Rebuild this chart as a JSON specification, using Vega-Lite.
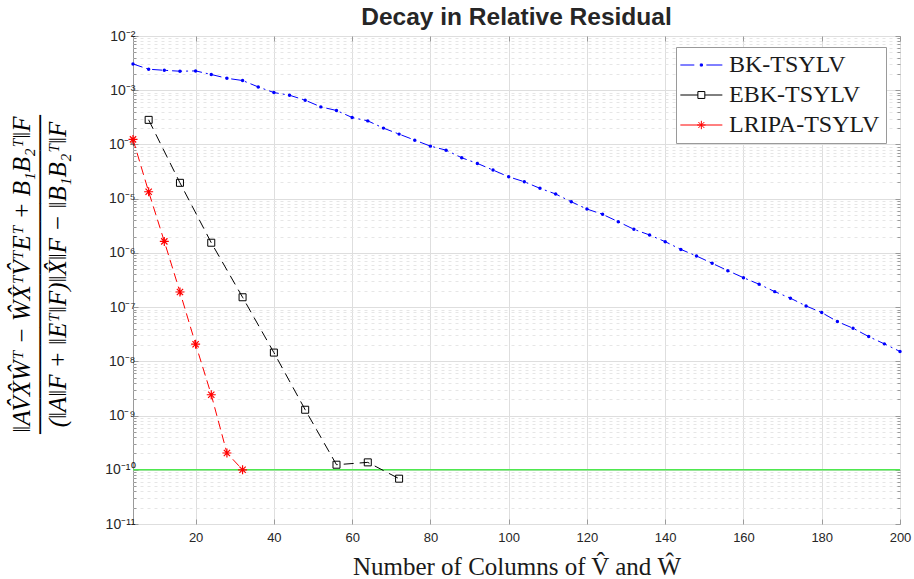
{
  "$schema": "https://vega.github.io/schema/vega-lite/v6.json",
  "width": 767,
  "height": 488,
  "autosize": "none",
  "padding": {"left": 133, "top": 36, "right": 14, "bottom": 55},
  "background": "white",
  "title": {"text": "Decay in Relative Residual", "font": "Liberation Sans", "fontSize": 24.5, "fontWeight": "bold", "color": "#262626", "offset": -1, "anchor": "middle"},
  "config": {"view": {"stroke": "#9a9a9a", "strokeWidth": 1}},
  "data": {"values": [
    {"series": "BK-TSYLV", "x": 4, "y": 3.05e-3},
    {"series": "BK-TSYLV", "x": 8, "y": 2.44e-3},
    {"series": "BK-TSYLV", "x": 12, "y": 2.33e-3},
    {"series": "BK-TSYLV", "x": 16, "y": 2.24e-3},
    {"series": "BK-TSYLV", "x": 20, "y": 2.27e-3},
    {"series": "BK-TSYLV", "x": 24, "y": 1.95e-3},
    {"series": "BK-TSYLV", "x": 28, "y": 1.66e-3},
    {"series": "BK-TSYLV", "x": 32, "y": 1.51e-3},
    {"series": "BK-TSYLV", "x": 36, "y": 1.15e-3},
    {"series": "BK-TSYLV", "x": 40, "y": 9.06e-4},
    {"series": "BK-TSYLV", "x": 44, "y": 8.09e-4},
    {"series": "BK-TSYLV", "x": 48, "y": 6.55e-4},
    {"series": "BK-TSYLV", "x": 52, "y": 4.93e-4},
    {"series": "BK-TSYLV", "x": 56, "y": 4.23e-4},
    {"series": "BK-TSYLV", "x": 60, "y": 3.14e-4},
    {"series": "BK-TSYLV", "x": 64, "y": 2.72e-4},
    {"series": "BK-TSYLV", "x": 68, "y": 2.0e-4},
    {"series": "BK-TSYLV", "x": 72, "y": 1.55e-4},
    {"series": "BK-TSYLV", "x": 76, "y": 1.20e-4},
    {"series": "BK-TSYLV", "x": 80, "y": 9.31e-5},
    {"series": "BK-TSYLV", "x": 84, "y": 7.85e-5},
    {"series": "BK-TSYLV", "x": 88, "y": 5.68e-5},
    {"series": "BK-TSYLV", "x": 92, "y": 4.47e-5},
    {"series": "BK-TSYLV", "x": 96, "y": 3.37e-5},
    {"series": "BK-TSYLV", "x": 100, "y": 2.53e-5},
    {"series": "BK-TSYLV", "x": 104, "y": 2.05e-5},
    {"series": "BK-TSYLV", "x": 108, "y": 1.55e-5},
    {"series": "BK-TSYLV", "x": 112, "y": 1.22e-5},
    {"series": "BK-TSYLV", "x": 116, "y": 8.77e-6},
    {"series": "BK-TSYLV", "x": 120, "y": 6.44e-6},
    {"series": "BK-TSYLV", "x": 124, "y": 5.14e-6},
    {"series": "BK-TSYLV", "x": 128, "y": 3.76e-6},
    {"series": "BK-TSYLV", "x": 132, "y": 2.72e-6},
    {"series": "BK-TSYLV", "x": 136, "y": 2.14e-6},
    {"series": "BK-TSYLV", "x": 140, "y": 1.61e-6},
    {"series": "BK-TSYLV", "x": 144, "y": 1.16e-6},
    {"series": "BK-TSYLV", "x": 148, "y": 8.77e-7},
    {"series": "BK-TSYLV", "x": 152, "y": 6.43e-7},
    {"series": "BK-TSYLV", "x": 156, "y": 4.70e-7},
    {"series": "BK-TSYLV", "x": 160, "y": 3.49e-7},
    {"series": "BK-TSYLV", "x": 164, "y": 2.64e-7},
    {"series": "BK-TSYLV", "x": 168, "y": 1.93e-7},
    {"series": "BK-TSYLV", "x": 172, "y": 1.46e-7},
    {"series": "BK-TSYLV", "x": 176, "y": 1.05e-7},
    {"series": "BK-TSYLV", "x": 180, "y": 7.93e-8},
    {"series": "BK-TSYLV", "x": 184, "y": 5.41e-8},
    {"series": "BK-TSYLV", "x": 188, "y": 4.08e-8},
    {"series": "BK-TSYLV", "x": 192, "y": 2.86e-8},
    {"series": "BK-TSYLV", "x": 196, "y": 2.10e-8},
    {"series": "BK-TSYLV", "x": 200, "y": 1.52e-8},
    {"series": "EBK-TSYLV", "x": 8, "y": 2.84e-4},
    {"series": "EBK-TSYLV", "x": 16, "y": 1.96e-5},
    {"series": "EBK-TSYLV", "x": 24, "y": 1.54e-6},
    {"series": "EBK-TSYLV", "x": 32, "y": 1.52e-7},
    {"series": "EBK-TSYLV", "x": 40, "y": 1.45e-8},
    {"series": "EBK-TSYLV", "x": 48, "y": 1.28e-9},
    {"series": "EBK-TSYLV", "x": 56, "y": 1.24e-10},
    {"series": "EBK-TSYLV", "x": 64, "y": 1.37e-10},
    {"series": "EBK-TSYLV", "x": 72, "y": 6.85e-11},
    {"series": "LRIPA-TSYLV", "x": 4, "y": 1.24e-4},
    {"series": "LRIPA-TSYLV", "x": 8, "y": 1.34e-5},
    {"series": "LRIPA-TSYLV", "x": 12, "y": 1.63e-6},
    {"series": "LRIPA-TSYLV", "x": 16, "y": 1.9e-7},
    {"series": "LRIPA-TSYLV", "x": 20, "y": 2.07e-8},
    {"series": "LRIPA-TSYLV", "x": 24, "y": 2.42e-9},
    {"series": "LRIPA-TSYLV", "x": 28, "y": 2.04e-10},
    {"series": "LRIPA-TSYLV", "x": 32, "y": 1.0e-10}
  ]},
  "layer": [
    {
      "data": {"values": [{"tol": 1e-10}]},
      "mark": {"type": "rule", "color": "#4ee84e", "strokeWidth": 1.5},
      "encoding": {
        "y": {"field": "tol", "type": "quantitative", "scale": {"type": "log", "domain": [1e-11, 1e-2], "nice": false}, "axis": null}
      }
    },
    {
      "transform": [{"filter": "datum.series === 'BK-TSYLV'"}],
      "mark": {"type": "line", "strokeWidth": 1, "strokeDash": [10, 4, 2, 4]},
      "encoding": {
        "x": {"field": "x", "type": "quantitative", "scale": {"domain": [4, 200], "nice": false, "zero": false},
          "axis": {"orient": "bottom", "values": [20, 40, 60, 80, 100, 120, 140, 160, 180, 200], "labelFont": "Liberation Sans", "labelFontSize": 13, "labelColor": "#262626", "labelPadding": 12, "labelFlush": false, "grid": true, "gridColor": "#dedede", "tickSize": -5, "tickColor": "#9a9a9a", "domain": false,
            "title": "Number of Columns of V̂ and Ŵ", "titleFont": "Liberation Serif", "titleFontSize": 25, "titleFontWeight": "normal", "titleColor": "#1a1a1a", "titlePadding": 10}},
        "y": {"field": "y", "type": "quantitative", "scale": {"type": "log", "domain": [1e-11, 1e-2], "nice": false},
          "axis": {"orient": "left",
            "values": [1e-11, 2e-11, 3e-11, 4e-11, 5e-11, 6e-11, 7e-11, 8e-11, 9e-11, 1e-10, 2e-10, 3e-10, 4e-10, 5e-10, 6e-10, 7e-10, 8e-10, 9e-10, 1e-9, 2e-9, 3e-9, 4e-9, 5e-9, 6e-9, 7e-9, 8e-9, 9e-9, 1e-8, 2e-8, 3e-8, 4e-8, 5e-8, 6e-8, 7e-8, 8e-8, 9e-8, 1e-7, 2e-7, 3e-7, 4e-7, 5e-7, 6e-7, 7e-7, 8e-7, 9e-7, 1e-6, 2e-6, 3e-6, 4e-6, 5e-6, 6e-6, 7e-6, 8e-6, 9e-6, 1e-5, 2e-5, 3e-5, 4e-5, 5e-5, 6e-5, 7e-5, 8e-5, 9e-5, 1e-4, 2e-4, 3e-4, 4e-4, 5e-4, 6e-4, 7e-4, 8e-4, 9e-4, 1e-3, 2e-3, 3e-3, 4e-3, 5e-3, 6e-3, 7e-3, 8e-3, 9e-3, 1e-2],
            "labelExpr": "abs(log(datum.value)/LN10 - round(log(datum.value)/LN10)) < 0.001 ? ['10⁻¹¹','10⁻¹⁰','10⁻⁹','10⁻⁸','10⁻⁷','10⁻⁶','10⁻⁵','10⁻⁴','10⁻³','10⁻²'][round(log(datum.value)/LN10)+11] : ''",
            "labelOverlap": false, "labelFont": "Liberation Sans", "labelFontSize": 14, "labelColor": "#262626", "labelPadding": 3,
            "grid": true,
            "gridColor": {"condition": {"test": "abs(log(datum.value)/LN10 - round(log(datum.value)/LN10)) < 0.001", "value": "#dedede"}, "value": "#e6e6e6"},
            "gridDash": {"condition": {"test": "abs(log(datum.value)/LN10 - round(log(datum.value)/LN10)) < 0.001", "value": []}, "value": [3, 4]},
            "tickSize": {"condition": {"test": "abs(log(datum.value)/LN10 - round(log(datum.value)/LN10)) < 0.001", "value": -5}, "value": -3},
            "tickColor": "#9a9a9a", "domain": false,
            "title": ["‖AV̂X̂Ŵᵀ − ŴX̂ᵀV̂ᵀEᵀ + B₁B₂ᵀ‖F", "──────────────────", "(‖A‖F + ‖Eᵀ‖F)‖X̂‖F − ‖B₁B₂ᵀ‖F"],
            "titleFont": "Liberation Serif", "titleFontSize": 25, "titleFontStyle": "italic", "titleFontWeight": "normal", "titleColor": "#000000",
            "titleX": -112, "titleY": 238, "titleAngle": -90, "titleAlign": "center", "titleBaseline": "middle", "titleLineHeight": 18}},
        "color": {"field": "series", "type": "nominal", "scale": {"domain": ["BK-TSYLV", "EBK-TSYLV", "LRIPA-TSYLV"], "range": ["#0000ff", "#000000", "#ff0000"]},
          "legend": {"orient": "none", "legendX": 543, "legendY": 11, "title": null, "labelFont": "Liberation Serif", "labelFontSize": 24, "labelColor": "#1a1a1a", "strokeColor": "#9a9a9a", "fillColor": "white", "padding": 6, "rowPadding": 6, "labelOffset": 23, "symbolSize": 441, "symbolStrokeWidth": 1, "symbolDash": [100, 0], "labelLimit": 300,
            "encode": {"symbols": {"update": {
              "shape": {"signal": "datum.value === 'BK-TSYLV' ? 'M-1.3,0H0.03M0.6,-0.1H0.8V0.1H0.6ZM1.18,0H2.7' : datum.value === 'EBK-TSYLV' ? 'M-1.3,0H0.37M0.37,-0.33H1.03V0.33H0.37ZM1.03,0H2.7' : 'M-1.3,0H2.7M0.7,-0.4V0.4M0.3,0H1.1M0.42,-0.28L0.98,0.28M0.42,0.28L0.98,-0.28'"},
              "fill": {"signal": "datum.value === 'BK-TSYLV' ? '#0000ff' : datum.value === 'EBK-TSYLV' ? '#ffffff' : '#ff0000'"},
              "size": {"value": 441},
              "strokeDash": {"signal": "[100, 0]"},
              "opacity": {"value": 1}
            }}}}}
      }
    },
    {
      "transform": [{"filter": "datum.series === 'EBK-TSYLV'"}],
      "mark": {"type": "line", "strokeWidth": 1, "strokeDash": [10, 6]},
      "encoding": {
        "x": {"field": "x", "type": "quantitative", "scale": {"domain": [4, 200], "nice": false, "zero": false}, "axis": null},
        "y": {"field": "y", "type": "quantitative", "scale": {"type": "log", "domain": [1e-11, 1e-2], "nice": false}, "axis": null},
        "color": {"field": "series", "type": "nominal", "scale": {"domain": ["BK-TSYLV", "EBK-TSYLV", "LRIPA-TSYLV"], "range": ["#0000ff", "#000000", "#ff0000"]}}
      }
    },
    {
      "transform": [{"filter": "datum.series === 'LRIPA-TSYLV'"}],
      "mark": {"type": "line", "strokeWidth": 1, "strokeDash": [9, 5]},
      "encoding": {
        "x": {"field": "x", "type": "quantitative", "scale": {"domain": [4, 200], "nice": false, "zero": false}, "axis": null},
        "y": {"field": "y", "type": "quantitative", "scale": {"type": "log", "domain": [1e-11, 1e-2], "nice": false}, "axis": null},
        "color": {"field": "series", "type": "nominal", "scale": {"domain": ["BK-TSYLV", "EBK-TSYLV", "LRIPA-TSYLV"], "range": ["#0000ff", "#000000", "#ff0000"]}}
      }
    },
    {
      "transform": [{"filter": "datum.series === 'BK-TSYLV'"}],
      "mark": {"type": "point", "shape": "circle", "size": 12, "filled": true, "color": "#0000ff", "opacity": 1},
      "encoding": {
        "x": {"field": "x", "type": "quantitative", "scale": {"domain": [4, 200], "nice": false, "zero": false},
          "axis": {"orient": "top", "values": [20, 40, 60, 80, 100, 120, 140, 160, 180, 200], "labels": false, "title": null, "grid": false, "domain": false, "tickSize": -5, "tickColor": "#9a9a9a"}},
        "y": {"field": "y", "type": "quantitative", "scale": {"type": "log", "domain": [1e-11, 1e-2], "nice": false},
          "axis": {"orient": "right", "labels": false, "title": null, "grid": false, "domain": false, "tickColor": "#9a9a9a",
            "values": [1e-11, 2e-11, 3e-11, 4e-11, 5e-11, 6e-11, 7e-11, 8e-11, 9e-11, 1e-10, 2e-10, 3e-10, 4e-10, 5e-10, 6e-10, 7e-10, 8e-10, 9e-10, 1e-9, 2e-9, 3e-9, 4e-9, 5e-9, 6e-9, 7e-9, 8e-9, 9e-9, 1e-8, 2e-8, 3e-8, 4e-8, 5e-8, 6e-8, 7e-8, 8e-8, 9e-8, 1e-7, 2e-7, 3e-7, 4e-7, 5e-7, 6e-7, 7e-7, 8e-7, 9e-7, 1e-6, 2e-6, 3e-6, 4e-6, 5e-6, 6e-6, 7e-6, 8e-6, 9e-6, 1e-5, 2e-5, 3e-5, 4e-5, 5e-5, 6e-5, 7e-5, 8e-5, 9e-5, 1e-4, 2e-4, 3e-4, 4e-4, 5e-4, 6e-4, 7e-4, 8e-4, 9e-4, 1e-3, 2e-3, 3e-3, 4e-3, 5e-3, 6e-3, 7e-3, 8e-3, 9e-3, 1e-2],
            "tickSize": {"condition": {"test": "abs(log(datum.value)/LN10 - round(log(datum.value)/LN10)) < 0.001", "value": -5}, "value": -3}}}
      }
    },
    {
      "transform": [{"filter": "datum.series === 'EBK-TSYLV'"}],
      "mark": {"type": "point", "shape": "square", "size": 49, "filled": false, "color": "#000000", "strokeWidth": 1, "opacity": 1},
      "encoding": {
        "x": {"field": "x", "type": "quantitative", "scale": {"domain": [4, 200], "nice": false, "zero": false}, "axis": null},
        "y": {"field": "y", "type": "quantitative", "scale": {"type": "log", "domain": [1e-11, 1e-2], "nice": false}, "axis": null}
      }
    },
    {
      "transform": [{"filter": "datum.series === 'LRIPA-TSYLV'"}],
      "mark": {"type": "point", "shape": "M0,-1V1M-1,0H1M-0.7,-0.7L0.7,0.7M-0.7,0.7L0.7,-0.7", "size": 81, "filled": false, "color": "#ff0000", "strokeWidth": 1.2, "opacity": 1},
      "encoding": {
        "x": {"field": "x", "type": "quantitative", "scale": {"domain": [4, 200], "nice": false, "zero": false}, "axis": null},
        "y": {"field": "y", "type": "quantitative", "scale": {"type": "log", "domain": [1e-11, 1e-2], "nice": false}, "axis": null}
      }
    }
  ],
  "resolve": {"axis": {"x": "independent", "y": "independent"}}
}
